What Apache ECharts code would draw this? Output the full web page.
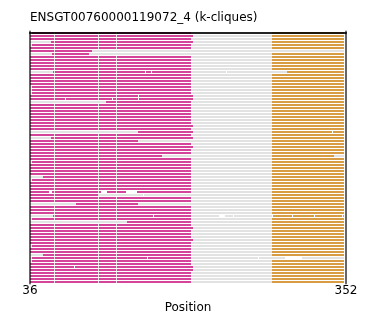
<!DOCTYPE html>
<html>
<head>
<meta charset="utf-8">
<script src="https://cdn.jsdelivr.net/npm/echarts@6/dist/echarts.min.js"></script>
<style>html,body{margin:0;padding:0;background:#fff;}#c{width:376px;height:312px;}</style>
</head>
<body>
<div id="c"></div>
<script>
// ---- data ----
const titleText = 'ENSGT00760000119072_4 (k-cliques)';
const xTickLabels = [36, 352];
const seqRange = [36, 350];            // gray (sequence) extent of each row
const domainBreaks = [60, 104, 122];   // boundaries inside the magenta domain
// magenta domain start / end for each row (84 rows, top to bottom)
const magStart = [
  38,36,36,57,38,36,36,58,36,36,
  36,36,36,59,36,36,36,36,38,38,
  38,36,36,112,36,36,36,36,36,36,
  36,36,36,144,36,57,36,36,36,36,
  36,36,36,38,36,36,36,36,49,38,
  36,36,36,36,36,36,36,82,36,36,
  36,59,38,133,36,36,36,36,36,36,
  36,38,36,36,49,38,38,36,36,36,
  36,36,36,36
];
const magEnd = [
  197,199,197,199,197,197,98,95,197,197,
  197,197,197,197,197,197,197,197,197,197,
  197,199,199,197,197,197,197,197,197,197,
  197,199,197,199,197,199,144,197,199,197,
  197,168,197,197,197,197,197,197,197,197,
  197,197,197,197,104,197,197,144,197,197,
  197,197,197,197,197,199,197,197,197,199,
  197,197,197,197,197,197,197,197,199,199,
  197,197,197,197
];
// orange domain start / end for each row (null = absent)
const oraStart = [
  278,278,278,278,278,278,null,278,278,278,
  278,278,278,293,278,278,278,278,278,278,
  278,278,278,278,278,278,278,278,278,278,
  278,278,278,278,278,278,278,278,278,278,
  278,278,278,278,278,278,278,278,278,278,
  278,278,278,278,278,278,278,278,278,278,
  278,278,278,278,278,278,278,278,278,278,
  278,278,278,278,278,null,278,278,278,278,
  278,278,278,278
];
const oraEnd = [
  350,350,350,350,350,350,null,350,350,350,
  350,350,350,350,350,350,350,350,350,350,
  350,350,350,350,350,350,350,350,350,350,
  350,350,350,350,350,350,350,350,350,350,
  350,340,350,350,350,350,350,350,350,350,
  350,350,350,350,350,350,350,350,350,350,
  350,350,350,350,350,350,350,350,350,350,
  350,350,350,350,350,null,350,350,350,350,
  350,350,350,350
];
// small white gaps: [row, start, end]
const whiteGaps = [
  [13,151,152],[13,157,158],[13,232,233],
  [21,144,145],
  [22,71,72],[22,118,119],[22,144,145],
  [33,338,339],
  [53,55,58],[53,107,113],[53,132,143],
  [54,149,150],
  [61,159,160],[61,225,231],[61,239,240],[61,278,279],[61,298,299],[61,320,321],[61,348,349],
  [75,153,154],[75,264,265],[75,291,308],
  [78,80,81]
];

// ---- build series data ----
const nRows = magStart.length;
const grayData = [], magData = [], oraData = [];
for (let r = 0; r < nRows; r++) {
  grayData.push([seqRange[0], seqRange[1], r]);
  let s = magStart[r];
  const e = magEnd[r];
  for (const b of domainBreaks) {
    if (b > s && b < e) { magData.push([s, b, r]); s = b + 1; }
  }
  if (e > s) magData.push([s, e, r]);
  if (oraStart[r] != null) oraData.push([oraStart[r], oraEnd[r], r]);
}
const gapData = whiteGaps.map(g => [g[1], g[2], g[0]]);

function renderSeg(params, api) {
  const p0 = api.coord([api.value(0), api.value(2)]);
  const p1 = api.coord([api.value(1), api.value(2)]);
  const h = api.size([0, 1])[1];
  const x0 = Math.round(p0[0]), x1 = Math.round(p1[0]);
  return {
    type: 'rect',
    shape: { x: x0, y: Math.round(p0[1] - h / 2), width: x1 - x0, height: Math.round(h * 2 / 3) },
    style: { fill: api.visual('color') }
  };
}
function seg(name, data, color) {
  return {
    type: 'custom', name, renderItem: renderSeg, data,
    itemStyle: { color }, encode: { x: [0, 1], y: 2 },
    xAxisIndex: 0, yAxisIndex: 0, silent: true, animation: false, z: 2
  };
}

const FONT = 'DejaVu Sans';
const frame = { show: true, lineStyle: { color: 'rgba(0,0,0,0.6)', width: 2 } };
const chart = echarts.init(document.getElementById('c'), null, { renderer: 'canvas' });
chart.setOption({
  animation: false,
  backgroundColor: '#ffffff',
  title: {
    text: titleText, left: 30, top: 12, padding: 0,
    textStyle: { fontFamily: FONT, fontSize: 12, fontWeight: 'normal', color: '#000' }
  },
  grid: { left: 30, right: 30, top: 31.5, bottom: 28.5, show: false, containLabel: false, outerBoundsMode: 'none' },
  xAxis: [
    {
      type: 'value', min: xTickLabels[0], max: xTickLabels[1], position: 'bottom', offset: -1.5, z: 10,
      axisLine: frame, axisTick: { show: false }, splitLine: { show: false },
      axisLabel: { customValues: xTickLabels, margin: 2.5, fontFamily: FONT, fontSize: 12, color: '#000', showMinLabel: true, showMaxLabel: true },
      name: 'Position', nameLocation: 'middle', nameGap: 14,
      nameTextStyle: { fontFamily: FONT, fontSize: 12, color: '#000' }
    },
    {
      type: 'value', min: xTickLabels[0], max: xTickLabels[1], position: 'top', offset: 0.5, z: 10,
      axisLine: frame, axisTick: { show: false }, splitLine: { show: false }, axisLabel: { show: false }
    }
  ],
  yAxis: [
    {
      type: 'value', min: -0.5, max: nRows - 0.5, inverse: true, position: 'left', z: 10,
      axisLine: frame, axisTick: { show: false }, splitLine: { show: false }, axisLabel: { show: false }
    },
    {
      type: 'value', min: -0.5, max: nRows - 0.5, inverse: true, position: 'right', z: 10,
      axisLine: frame, axisTick: { show: false }, splitLine: { show: false }, axisLabel: { show: false }
    }
  ],
  series: [
    seg('sequence', grayData, '#e2e2e2'),
    seg('clique A', magData, '#d4449b'),
    seg('clique B', oraData, '#d89c43'),
    seg('gap', gapData, '#ffffff')
  ]
});
</script>
</body>
</html>
